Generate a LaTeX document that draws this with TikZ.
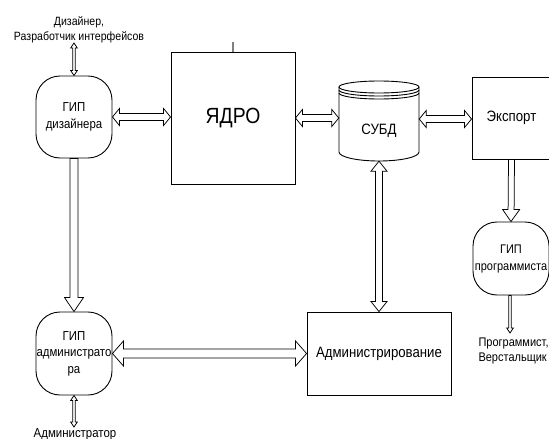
\documentclass[tikz,border=0pt]{standalone}
\usepackage{fontspec}
\setmainfont{Liberation Sans}[FakeStretch=0.88]
\usetikzlibrary{calc}

% Hollow double-headed arrow between two points.
% #1,#2 ends; #3 shaft half width; #4 head half width; #5 head length
\newcommand\dblhollow[5]{%
  \coordinate (hbA) at ($(#1)!#5!(#2)$);
  \coordinate (hbB) at ($(#2)!#5!(#1)$);
  \draw[arrowline] (#1) -- ($(hbA)!#4!90:(#2)$) -- ($(hbA)!#3!90:(#2)$)
    -- ($(hbB)!#3!-90:(#1)$) -- ($(hbB)!#4!-90:(#1)$) -- (#2)
    -- ($(hbB)!#4!90:(#1)$) -- ($(hbB)!#3!90:(#1)$)
    -- ($(hbA)!#3!-90:(#2)$) -- ($(hbA)!#4!-90:(#2)$) -- cycle;}

% Hollow single-headed arrow, head at #2.
\newcommand\sglhollow[5]{%
  \coordinate (hbB) at ($(#2)!#5!(#1)$);
  \draw[arrowline] ($(#1)!#3!-90:(#2)$) -- ($(hbB)!#3!90:(#1)$)
    -- ($(hbB)!#4!90:(#1)$) -- (#2) -- ($(hbB)!#4!-90:(#1)$)
    -- ($(hbB)!#3!-90:(#1)$) -- ($(#1)!#3!90:(#2)$) -- cycle;}

\begin{document}
\begin{tikzpicture}[x=1pt,y=-1pt,
  box/.style={draw, line width=0.9pt, inner sep=0pt, align=center},
  uibox/.style={box, rounded corners=24pt},
  arrowline/.style={draw, line width=0.75pt, fill=white, line join=miter},
  small/.style={font=\fontsize{13}{16.5}\selectfont},
  tiny/.style={font=\fontsize{12}{15}\selectfont, align=center},
  mid/.style={font=\fontsize{15}{18}\selectfont}]

\useasboundingbox (0,0) rectangle (549,439);

% user interface blocks
\node[uibox, small, minimum width=76pt, minimum height=82pt] (gd) at (74,117) {ГИП\\дизайнера};
\node[uibox, small, minimum width=76pt, minimum height=83pt] (ga) at (74,353.5) {ГИП\\администрато\\ра};
\node[uibox, small, font=\fontsize{12.5}{17}\selectfont, minimum width=76pt, minimum height=73pt] (gp) at (511,258.5) {ГИП\\программиста};

% core, export and administration
\node[box, font=\fontsize{22}{26}\selectfont, minimum width=124pt, minimum height=132pt] (yadro) at (233,118) {ЯДРО};
\node[box, mid, minimum width=79pt, minimum height=82pt] (exp) at (511.5,118) {Экспорт};
\node[box, mid, minimum width=144pt, minimum height=83pt] (adm) at (379,353.5) {Администрирование};
\draw[gray, line width=1.4pt] (yadro.north) -- ++(0,-10);

% database cylinder
\node[minimum width=80pt, minimum height=80pt, inner sep=0pt] (db) at (379,121) {};
\node[mid] (dbtext) at (379,131) {СУБД};
\draw[line width=0.9pt] ($(db.center)+(0,-34)$) ellipse [x radius=40pt, y radius=6pt];
\draw[line width=0.9pt] ($(db.center)+(-40,-31)$) arc[start angle=180, end angle=360, x radius=40pt, y radius=6pt];
\draw[line width=0.9pt] ($(db.center)+(-40,-28)$) arc[start angle=180, end angle=360, x radius=40pt, y radius=6pt];
\draw[line width=0.9pt] ($(db.center)+(-40,-34)$) -- ($(db.center)+(-40,31)$)
  arc[start angle=180, end angle=360, x radius=40pt, y radius=9pt] -- ($(db.center)+(40,-34)$);

% people
\node[tiny] (dlabel) at (79,29.5) {Дизайнер,\\Разработчик интерфейсов};
\node[small] (alabel) at (75,434) {Администратор};
\node[tiny, font=\fontsize{12.5}{15}\selectfont, align=left, anchor=west] (plabel) at (475,350.5) {Программист,\\Верстальщик};
\coordinate (dtop) at (74,43);
\coordinate (abot) at (74,427);
\coordinate (pbot) at (510,333);

% connectors
\coordinate (c1) at (gd.east -| yadro.west);
\dblhollow{gd.east}{c1}{3.5pt}{8.5pt}{7pt}
\coordinate (c2a) at (yadro.east |- 0,118);
\coordinate (c2b) at (db.west |- 0,118);
\dblhollow{c2a}{c2b}{3.5pt}{8.5pt}{7pt}
\coordinate (c3a) at (db.east |- 0,119);
\coordinate (c3b) at (exp.west |- 0,119);
\dblhollow{c3a}{c3b}{3.5pt}{8.5pt}{7pt}
\coordinate (c4a) at (exp.south);
\coordinate (c4b) at (gp.north);
\sglhollow{c4a}{c4b}{3pt}{8.5pt}{12pt}
\coordinate (c5) at (db.south);
\dblhollow{c5}{adm.north}{3.5pt}{8pt}{10pt}
\sglhollow{gd.south}{ga.north}{4pt}{9.5pt}{14pt}
\dblhollow{ga.east}{adm.west}{4.5pt}{12.5pt}{11pt}
\dblhollow{dtop}{gd.north}{1.3pt}{3.3pt}{5pt}
\dblhollow{ga.south}{abot}{1.3pt}{3.3pt}{5pt}
\coordinate (c6) at (gp.south -| pbot);
\sglhollow{c6}{pbot}{1.3pt}{3.3pt}{5pt}

\end{tikzpicture}
\end{document}
